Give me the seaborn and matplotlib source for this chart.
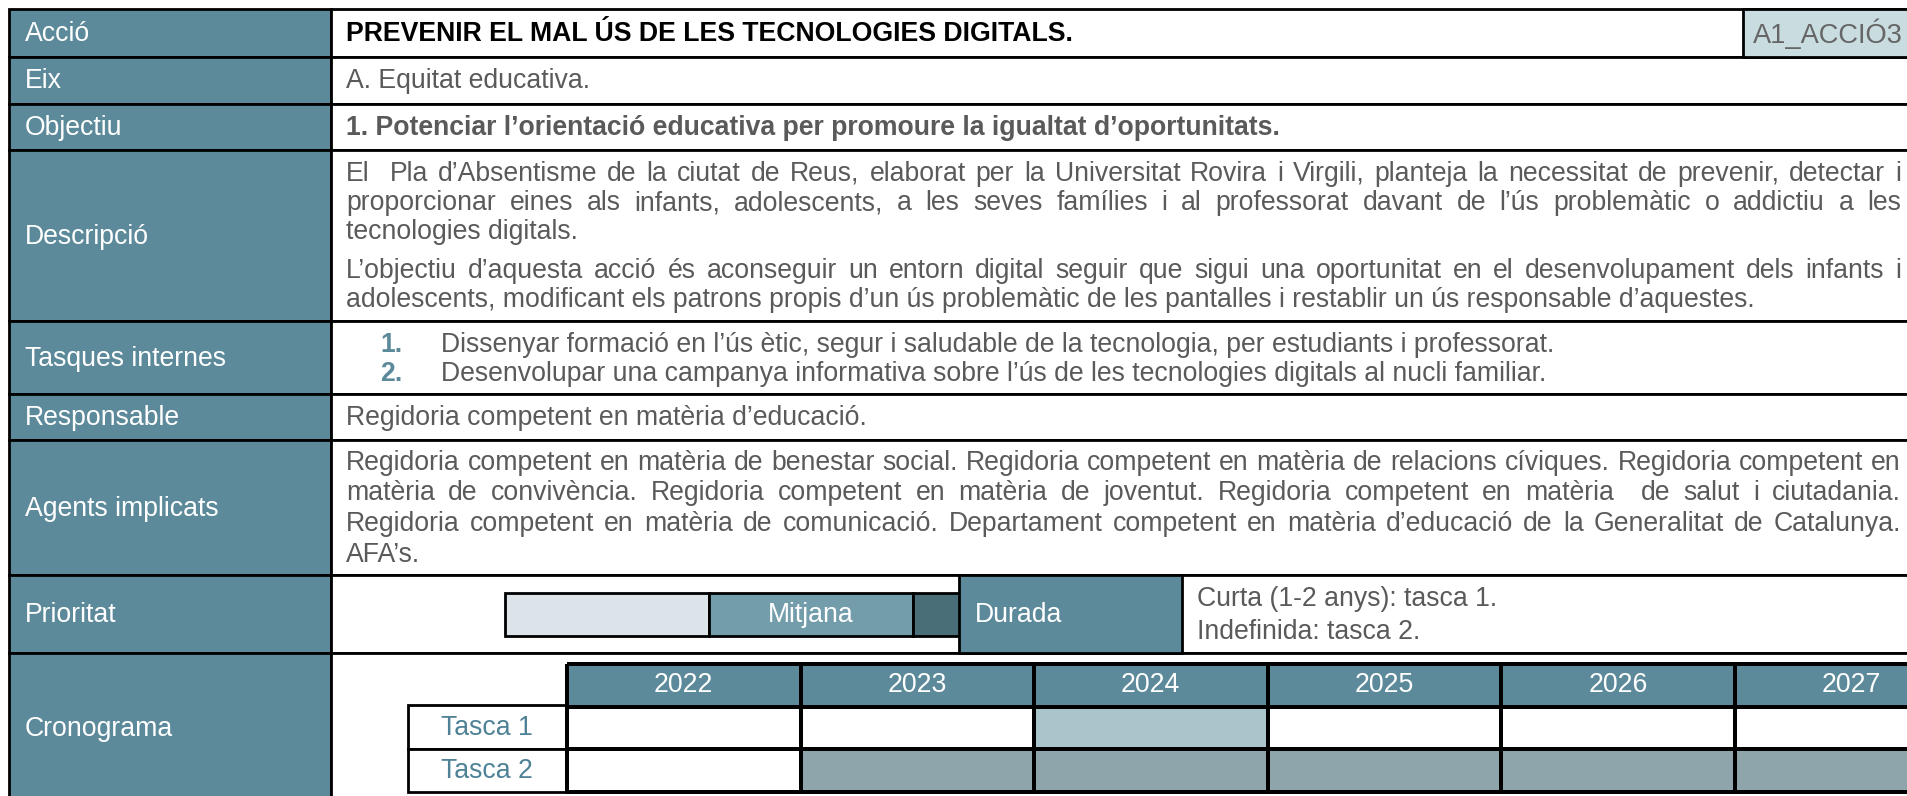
import seaborn as sns
import matplotlib.pyplot as plt
import numpy as np
from matplotlib.patches import Rectangle
from matplotlib.colors import ListedColormap

# --- table contents ---
row_labels = ['Acció', 'Eix', 'Objectiu', 'Descripció', 'Tasques internes',
              'Responsable', 'Agents implicats', 'Prioritat', 'Cronograma']
accio_title = 'PREVENIR EL MAL ÚS DE LES TECNOLOGIES DIGITALS.'
accio_code = 'A1_ACCIÓ3'
eix_text = 'A. Equitat educativa.'
objectiu_text = '1. Potenciar l’orientació educativa per promoure la igualtat d’oportunitats.'
descripcio_p1 = ['El  Pla d’Absentisme de la ciutat de Reus, elaborat per la Universitat Rovira i Virgili, planteja la necessitat de prevenir, detectar i',
                 'proporcionar eines als infants, adolescents, a les seves famílies i al professorat davant de l’ús problemàtic o addictiu a les',
                 'tecnologies digitals.']
descripcio_p2 = ['L’objectiu d’aquesta acció és aconseguir un entorn digital seguir que sigui una oportunitat en el desenvolupament dels infants i',
                 'adolescents, modificant els patrons propis d’un ús problemàtic de les pantalles i restablir un ús responsable d’aquestes.']
tasques = ['Dissenyar formació en l’ús ètic, segur i saludable de la tecnologia, per estudiants i professorat.',
           'Desenvolupar una campanya informativa sobre l’ús de les tecnologies digitals al nucli familiar.']
responsable_text = 'Regidoria competent en matèria d’educació.'
agents_lines = ['Regidoria competent en matèria de benestar social. Regidoria competent en matèria de relacions cíviques. Regidoria competent en',
                'matèria de convivència. Regidoria competent en matèria de joventut. Regidoria competent en matèria  de salut i ciutadania.',
                'Regidoria competent en matèria de comunicació. Departament competent en matèria d’educació de la Generalitat de Catalunya.',
                'AFA’s.']
prioritat_levels = ['Baixa', 'Mitjana', 'Alta']
prioritat_sel = 'Mitjana'
durada_lines = ['Curta (1-2 anys): tasca 1.', 'Indefinida: tasca 2.']
years = [2022, 2023, 2024, 2025, 2026, 2027]
task_names = ['Tasca 1', 'Tasca 2']
task_years = [[2024], [2023, 2024, 2025, 2026, 2027]]

# --- layout (pixels) ---
W, H = 1907, 796
row_edges = [9, 57, 104, 150, 321, 394, 440, 575, 653, 803]
x_left, x_lab, x_txt, x_right, x_just = 9, 331, 346, 1930, 1901
FS = 19.2
GRAY = '#5a5a5a'
TEAL = '#5c8a9a'
TEAL_TXT = '#4f8296'

sns.set_theme(style='white')
plt.rcParams['font.family'] = ['Liberation Sans', 'DejaVu Sans']

fig = plt.figure(figsize=(W / 100, H / 100), dpi=100)
ax = fig.add_axes([0, 0, 1, 1])
ax.set_xlim(0, W)
ax.set_ylim(H, 0)
ax.axis('off')
renderer = fig.canvas.get_renderer()
LW = 2.0

for i, lab in enumerate(row_labels):
    y0, y1 = row_edges[i], row_edges[i + 1]
    ax.add_patch(Rectangle((x_left, y0), x_lab - x_left, y1 - y0, fc=TEAL, ec='black', lw=LW, zorder=1))
    ax.add_patch(Rectangle((x_lab, y0), x_right - x_lab, y1 - y0, fc='white', ec='black', lw=LW, zorder=1))
    ax.text(25, (y0 + y1) / 2 + 1, lab, color='white', fontsize=FS, va='center', zorder=5)


def put(x, y, s, **kw):
    kw.setdefault('color', GRAY)
    kw.setdefault('fontsize', FS)
    return ax.text(x, y + 1, s, va='center', zorder=5, **kw)


def justified(y, s, x0=x_txt, x1=x_just, **kw):
    words = s.split(' ')
    arts = [put(0, y, w, **kw) for w in words]
    widths = [a.get_window_extent(renderer).width if w else 0 for a, w in zip(arts, words)]
    gap = (x1 - x0 - sum(widths)) / (len(words) - 1)
    x = x0
    for a, wd in zip(arts, widths):
        a.set_x(x)
        x += wd + gap


# Acció
put(x_txt, 33, accio_title, color='black', fontweight='bold')
ax.add_patch(Rectangle((1743, 9), 300, 48, fc='#c9dce0', ec='black', lw=LW, zorder=2))
put(1753, 33, accio_code, color='#666666', fontsize=FS + 0.4)
put(x_txt, 80, eix_text)
put(x_txt, 127, objectiu_text, fontweight='bold')

# Descripció
for k, line in enumerate(descripcio_p1):
    y = 173 + 29 * k
    if k < len(descripcio_p1) - 1:
        justified(y, line)
    else:
        put(x_txt, y, line)
for k, line in enumerate(descripcio_p2):
    y = 270 + 29 * k
    if k < len(descripcio_p2) - 1:
        justified(y, line)
    else:
        put(x_txt, y, line)

# Tasques internes
for k, t in enumerate(tasques):
    y = 344 + 29 * k
    put(380, y, f'{k + 1}.', color=TEAL, fontweight='bold')
    put(441, y, t)

put(x_txt, 417, responsable_text)

# Agents implicats
for k, line in enumerate(agents_lines):
    y = 462 + 30.5 * k
    if k < len(agents_lines) - 1:
        justified(y, line)
    else:
        put(x_txt, y, line)

# Prioritat bar
seg = 204
pcol = ['#dce4ea', '#739dab', '#4a6e78']
lefts = [505 + seg * i for i in range(len(prioritat_levels))]
ax.barh([614] * 3, [seg] * 3, left=lefts, height=43, color=pcol, edgecolor='black', lw=LW, zorder=2)
si = prioritat_levels.index(prioritat_sel)
put(lefts[si] + seg / 2, 614, prioritat_sel, color='white', ha='center')
ax.add_patch(Rectangle((959, 575), 223, 78, fc=TEAL, ec='black', lw=LW, zorder=3))
put(975, 614, 'Durada', color='white')
for k, line in enumerate(durada_lines):
    put(1197, 598 + 33 * k, line)

# Cronograma: task labels
for k, name in enumerate(task_names):
    y0 = 705 + 43.5 * k
    ax.add_patch(Rectangle((408, y0), 159, 43.5, fc='white', ec='black', lw=LW, zorder=2))
    put(487, y0 + 21.75, name, color=TEAL_TXT, ha='center')

# Cronograma grid via heatmap
grid = np.zeros((1 + len(task_names), len(years)))
grid[0, :] = 3
for k, ty in enumerate(task_years):
    for yv in ty:
        grid[k + 1, years.index(yv)] = k + 1
annot = np.full(grid.shape, '', dtype=object)
annot[0, :] = [str(v) for v in years]
x0, x1, y0, y1 = 567, 567 + 233.5 * len(years), 664, 792
hax = fig.add_axes([x0 / W, (H - y1) / H, (x1 - x0) / W, (y1 - y0) / H])
cmap = ListedColormap(['white', '#aac4cc', '#8fa5ac', TEAL])
sns.heatmap(grid, ax=hax, cmap=cmap, vmin=-0.5, vmax=3.5, cbar=False,
            linewidths=1.6, linecolor='black', annot=annot, fmt='',
            annot_kws={'color': 'white', 'fontsize': FS})
hax.collections[0].set_clip_on(False)
hax.set_xticks([])
hax.set_yticks([])

fig.savefig('out.png', dpi=100)
